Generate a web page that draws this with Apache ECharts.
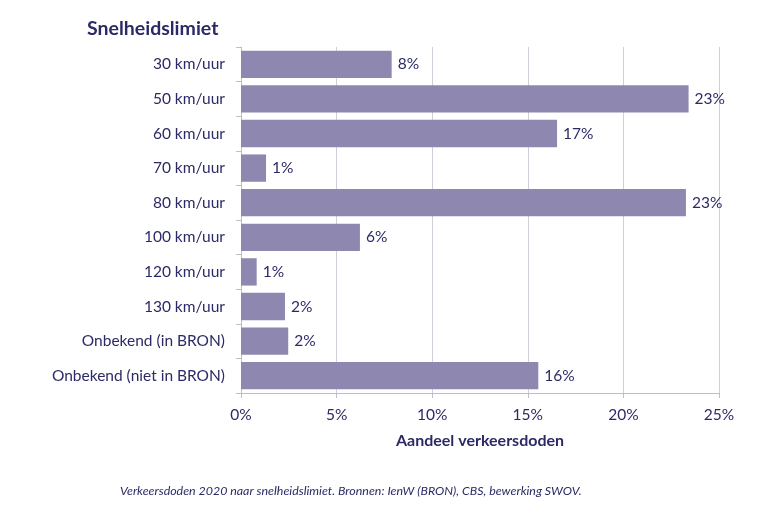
<!DOCTYPE html>
<html><head><meta charset="utf-8">
<script src="https://cdn.jsdelivr.net/npm/echarts@6/dist/echarts.min.js"></script>
<style>html,body{margin:0;padding:0;background:#fff}#c{width:763px;height:518px}</style>
</head><body><div id="c"></div>
<script>
const categories = ['30 km/uur','50 km/uur','60 km/uur','70 km/uur','80 km/uur','100 km/uur','120 km/uur','130 km/uur','Onbekend (in BRON)','Onbekend (niet in BRON)'];
const values = [7.88, 23.41, 16.53, 1.31, 23.27, 6.22, 0.82, 2.30, 2.47, 15.55];
const xTicks = [0, 5, 10, 15, 20, 25];
const titleText = 'Snelheidslimiet';
const axisName = 'Aandeel verkeersdoden';
const footer = 'Verkeersdoden 2020 naar snelheidslimiet. Bronnen: IenW (BRON), CBS, bewerking SWOV.';

const navy = '#2b2a66';
const font = 'Lato';
const chart = echarts.init(document.getElementById('c'));
chart.setOption({
  animation: false,
  title: [
    {text: titleText, left: 87, top: 19, padding: 0, textStyle: {fontFamily: font, fontSize: 19.5, fontWeight: 'bold', color: navy}},
    {text: footer, left: 120, top: 485, padding: 0, textStyle: {fontFamily: font, fontSize: 12.4, fontStyle: 'italic', fontWeight: 'normal', color: navy}}
  ],
  grid: {left: 241, right: 44, top: 47, bottom: 125},
  xAxis: {
    type: 'value', min: xTicks[0], max: xTicks[xTicks.length-1], interval: 5,
    name: axisName, nameLocation: 'middle', nameGap: 40,
    nameTextStyle: {fontFamily: font, fontSize: 16, fontWeight: 'bold', color: navy},
    axisLine: {show: true, lineStyle: {color: '#bdbdcc'}},
    axisTick: {show: true, length: 5, lineStyle: {color: '#bdbdcc'}},
    axisLabel: {fontFamily: font, fontSize: 15.5, color: navy, margin: 14, formatter: v => v + '%'},
    splitLine: {show: true, lineStyle: {color: '#cfcfdb'}}
  },
  yAxis: {
    type: 'category', data: categories, inverse: true,
    axisLine: {show: true, lineStyle: {color: '#bdbdcc'}},
    axisTick: {show: true, length: 5, lineStyle: {color: '#bdbdcc'}},
    axisLabel: {fontFamily: font, fontSize: 15.5, color: navy, margin: 16}
  },
  series: [{
    type: 'bar', data: values, barCategoryGap: '21%',
    itemStyle: {color: '#8e88b0'},
    label: {show: true, position: 'right', distance: 6, fontFamily: font, fontSize: 15.5, color: navy,
      formatter: p => Math.round(p.value) + '%'}
  }]
});
</script></body></html>
